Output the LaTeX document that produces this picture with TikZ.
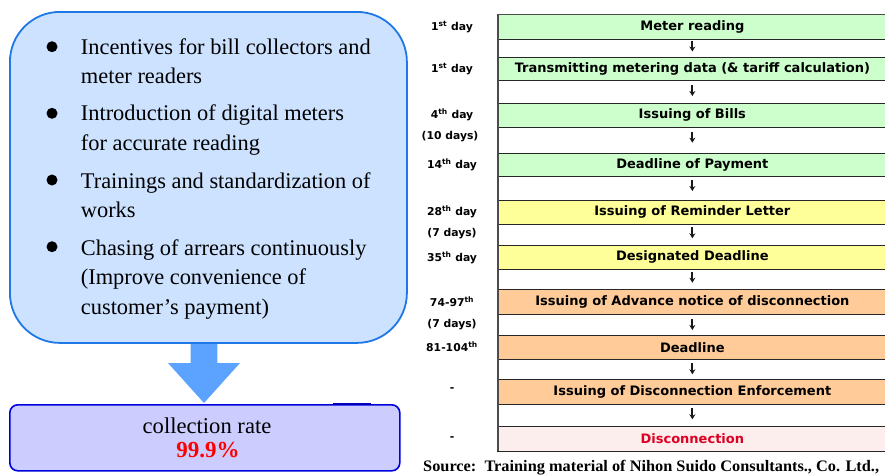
\documentclass[tikz,border=0pt]{standalone}
\usepackage{fontspec}
\setmainfont{Liberation Serif}
\newfontfamily\tabfont{DejaVu Sans}
\newfontfamily\srcfont{Liberation Serif}[FakeStretch=1.02]
\usetikzlibrary{calc,arrows.meta}
\definecolor{boxfill}{HTML}{CCE2FF}
\definecolor{boxline}{HTML}{1E78E6}
\definecolor{arrowblue}{HTML}{5BA3FF}
\definecolor{ratefill}{HTML}{CCCCFF}
\definecolor{rateline}{HTML}{0000DD}
\definecolor{rowgreen}{HTML}{CCFFCC}
\definecolor{rowyellow}{HTML}{FFFF99}
\definecolor{roworange}{HTML}{FFCC99}
\definecolor{rowpink}{HTML}{FDEEEE}
\definecolor{discred}{HTML}{DD0022}
\tikzset{
  rowbox/.style={draw=black!85, line width=0.8pt, anchor=north west, minimum width=389.3pt, inner sep=0pt, outer sep=0pt, font=\tabfont\bfseries\fontsize{13}{15}\selectfont},
  daylab/.style={font=\tabfont\bfseries\fontsize{10.8}{12}\selectfont, inner sep=0pt},
  bultext/.style={anchor=base west, inner sep=0pt, font=\fontsize{22.4}{26}\selectfont},
  bulletdot/.style={circle, fill=black, minimum size=11pt, inner sep=0pt},
  smallarrow/.style={-{Stealth[length=5pt,width=6pt]}, line width=1.8pt, black!90}
}
\begin{document}
\begin{tikzpicture}[x=1pt,y=-1pt]
\useasboundingbox (0,0) rectangle (885,475);
\clip (0,0) rectangle (885,475);
% bottom result box
\node[draw=rateline, fill=ratefill, rounded corners=8pt, line width=1.6pt, minimum width=390pt, minimum height=66pt, anchor=north west, inner sep=0pt] (ratebox) at (9,404) {};
\draw[line width=2.6pt, rateline!85!black] (333,404) -- (371,404);
\node[font=\fontsize{22.6}{26}\selectfont, inner sep=0pt] (ratelbl) at (207,426) {collection rate};
\node[font=\bfseries\fontsize{23}{26}\selectfont, text=red, inner sep=0pt] (rateval) at (208,450) {99.9\%};
% big arrow
\coordinate (tip) at (204,403);
\fill[arrowblue] ($(tip)+(-13.3,-63)$) -- ($(tip)+(13.3,-63)$) -- ($(tip)+(13.3,-40)$) -- ($(tip)+(36,-40)$) -- (tip) -- ($(tip)+(-36,-40)$) -- ($(tip)+(-13.3,-40)$) -- cycle;
% big box
\node[draw=boxline, fill=boxfill, rounded corners=50pt, line width=1.8pt, minimum width=397pt, minimum height=331pt, anchor=north west, inner sep=0pt] (bigbox) at (9,11) {};
% bullets
\node[bulletdot] (b1) at (52,46.7) {};
\node[bulletdot] (b2) at (52,113.3) {};
\node[bulletdot] (b3) at (52,180) {};
\node[bulletdot] (b4) at (52,246.7) {};
\node[bultext] (t1a) at (80.7,54) {Incentives for bill collectors and};
\node[bultext] (t1b) at (80.7,83.5) {meter readers};
\node[bultext] (t2a) at (80.7,120.7) {Introduction of digital meters};
\node[bultext] (t2b) at (80.7,150.2) {for accurate reading};
\node[bultext] (t3a) at (80.7,188) {Trainings and standardization of};
\node[bultext] (t3b) at (80.7,217.5) {works};
\node[bultext] (t4a) at (80.7,255) {Chasing of arrears continuously};
\node[bultext] (t4b) at (80.7,284.5) {(Improve convenience of};
\node[bultext] (t4c) at (80.7,314) {customer’s payment)};
% table rows
\node[rowbox, fill=rowgreen, minimum height=24.7pt] (r1) at (497.7,14.3) {Meter reading};
\node[rowbox, fill=white, minimum height=18.3pt] (a1) at (497.7,39) {};
\node[rowbox, fill=rowgreen, minimum height=22.7pt] (r2) at (497.7,57.3) {Transmitting metering data (\& tariff calculation)};
\node[rowbox, fill=white, minimum height=23.3pt] (a2) at (497.7,80) {};
\node[rowbox, fill=rowgreen, minimum height=23.7pt] (r3) at (497.7,103.3) {Issuing of Bills};
\node[rowbox, fill=white, minimum height=26pt] (a3) at (497.7,127) {};
\node[rowbox, fill=rowgreen, minimum height=23.7pt] (r4) at (497.7,153) {Deadline of Payment};
\node[rowbox, fill=white, minimum height=23.3pt] (a4) at (497.7,176.7) {};
\node[rowbox, fill=rowyellow, minimum height=24.3pt] (r5) at (497.7,200) {Issuing of Reminder Letter};
\node[rowbox, fill=white, minimum height=21pt] (a5) at (497.7,224.3) {};
\node[rowbox, fill=rowyellow, minimum height=24pt] (r6) at (497.7,245.3) {Designated Deadline};
\node[rowbox, fill=white, minimum height=19.7pt] (a6) at (497.7,269.3) {};
\node[rowbox, fill=roworange, minimum height=25.3pt] (r7) at (497.7,289) {Issuing of Advance notice of disconnection};
\node[rowbox, fill=white, minimum height=21pt] (a7) at (497.7,314.3) {};
\node[rowbox, fill=roworange, minimum height=24.4pt] (r8) at (497.7,335.3) {Deadline};
\node[rowbox, fill=white, minimum height=19.6pt] (a8) at (497.7,359.7) {};
\node[rowbox, fill=roworange, minimum height=25pt] (r9) at (497.7,379.3) {Issuing of Disconnection Enforcement};
\node[rowbox, fill=white, minimum height=22pt] (a9) at (497.7,404.3) {};
\node[rowbox, fill=rowpink, minimum height=24.7pt, text=discred] (r10) at (497.7,426.3) {Disconnection};
\draw[line width=1.6pt, black!70] (r1.north west) -- (r10.south west);
\draw[line width=1.6pt, black!70] (r1.north west) -- (r1.north east);
% small arrows
\foreach \a/\s in {a1/1.5,a2/5,a3/4.7,a4/3.3,a5/3,a6/2.4,a7/4.7,a8/3.6,a9/4}{
  \draw[smallarrow] ([yshift=-\s pt]\a.north) -- ([yshift=-\s pt-11pt]\a.north);
}
% day labels
\node[daylab] (d1) at (452,26.7) {1\textsuperscript{st} day};
\node[daylab] (d2) at (452,68.7) {1\textsuperscript{st} day};
\node[daylab] (d3) at (452,115) {4\textsuperscript{th} day};
\node[daylab] (d3b) at (450,137) {(10 days)};
\node[daylab] (d4) at (452,165) {14\textsuperscript{th} day};
\node[daylab] (d5) at (452,211.7) {28\textsuperscript{th} day};
\node[daylab] (d5b) at (452,233.3) {(7 days)};
\node[daylab] (d6) at (452,257.3) {35\textsuperscript{th} day};
\node[daylab] (d7) at (452,301.7) {74-97\textsuperscript{th}};
\node[daylab] (d7b) at (452,325) {(7 days)};
\node[daylab] (d8) at (452,346.7) {81-104\textsuperscript{th}};
\node[daylab] (d9) at (452,390) {-};
\node[daylab] (d10) at (452,438.3) {-};
% source
\node[anchor=base west, inner sep=0pt, font=\srcfont\bfseries\fontsize{16}{18}\selectfont] (src) at (423,471.5) {Source:\ \ Training material of Nihon Suido Consultants., Co. Ltd.,};
\end{tikzpicture}
\end{document}
